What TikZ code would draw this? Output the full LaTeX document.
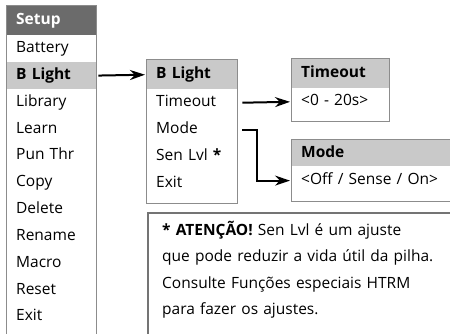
\documentclass[tikz,border=0pt]{standalone}
\usepackage{fontspec}
\setmainfont{Open Sans}
\usetikzlibrary{arrows.meta, positioning}
\definecolor{hdrdark}{HTML}{6B6B6B}
\definecolor{hdrlight}{HTML}{C9C9C9}
\definecolor{framegray}{HTML}{8C8C8C}
\definecolor{notegray}{HTML}{747474}

\begin{document}
\begin{tikzpicture}[x=1pt, y=-1pt]
        \tikzset{
            row/.style={rectangle, anchor=north west, inner xsep=10pt, inner ysep=0pt,
                minimum height=26.4pt, text height=11.5pt, text depth=3.5pt, align=left,
                font=\fontsize{15.5}{18}\selectfont},
            head/.style={fill=hdrlight, font=\fontsize{15.5}{18}\selectfont\bfseries},
            setuprow/.style={row, text width=70pt},
            blrow/.style={row, text width=71pt},
            torow/.style={row, text width=78pt},
            mdrow/.style={row, text width=150pt},
            frame/.style={draw=framegray, line width=1pt},
            link/.style={-{Stealth[length=15pt, width=10pt]}, line width=2pt}
        }
        \useasboundingbox (0,0) rectangle (450,334);

        % Setup menu
        \node[setuprow, head, fill=hdrdark, text=white, minimum height=29pt] (su-head) at (6,6) {Setup};
        \node[setuprow, below=0pt of su-head] (su-battery) {Battery};
        \node[setuprow, head, below=0pt of su-battery] (su-blight) {B Light};
        \node[setuprow, below=0pt of su-blight] (su-library) {Library};
        \node[setuprow, below=0pt of su-library] (su-learn) {Learn};
        \node[setuprow, below=0pt of su-learn] (su-punthr) {Pun Thr};
        \node[setuprow, below=0pt of su-punthr] (su-copy) {Copy};
        \node[setuprow, below=0pt of su-copy] (su-delete) {Delete};
        \node[setuprow, below=0pt of su-delete] (su-rename) {Rename};
        \node[setuprow, below=0pt of su-rename] (su-macro) {Macro};
        \node[setuprow, below=0pt of su-macro] (su-reset) {Reset};
        \node[setuprow, below=0pt of su-reset] (su-exit) {Exit};
        \draw[frame] (su-head.north west) rectangle ([yshift=-5pt]su-exit.south east);

        % B Light menu
        \node[blrow, head, minimum height=29pt] (bl-head) at (146,60) {B Light};
        \node[blrow, below=0pt of bl-head] (bl-timeout) {Timeout};
        \node[blrow, below=0pt of bl-timeout] (bl-mode) {Mode};
        \node[blrow, below=0pt of bl-mode] (bl-senlvl) {Sen Lvl \textbf{*}};
        \node[blrow, below=0pt of bl-senlvl] (bl-exit) {Exit};
        \draw[frame] (bl-head.north west) rectangle ([yshift=-7pt]bl-exit.south east);

        % Timeout values
        \node[torow, head, minimum height=29pt] (to-head) at (291,59) {Timeout};
        \node[torow, below=0pt of to-head] (to-val) {<0 - 20s>};
        \draw[frame] (to-head.north west) rectangle ([yshift=-6pt]to-val.south east);

        % Mode values
        \node[mdrow, head, minimum height=26pt] (md-head) at (291,140) {Mode};
        \node[mdrow, below=0pt of md-head, minimum height=28pt] (md-val) {<Off / Sense / On>};
        \draw[frame] (md-head.north west) rectangle ([yshift=-7pt]md-val.south east);

        % Note
        \node[anchor=north west, inner xsep=14pt, inner ysep=8pt,
              text width=290pt, align=left,
              font=\fontsize{15.5}{26.4}\selectfont] (note) at (148,213)
              {\textbf{* ATENÇÃO!} Sen Lvl é um ajuste\\
               que pode reduzir a vida útil da pilha.\\
               Consulte Funções especiais HTRM\\
               para fazer os ajustes.};
        \draw[draw=notegray, line width=2pt] (note.north west) rectangle (470,350);

        % Edges
        \draw[link, shorten <=2pt, shorten >=1pt] (su-blight.east) -- (bl-head.west);
        \draw[link, shorten <=5pt, shorten >=1pt] (bl-timeout.east) -- (to-val.west);
        \draw[link, shorten >=1pt] ([xshift=5pt]bl-mode.east) -- ++(15,0) |- (md-val.west);
\end{tikzpicture}
\end{document}
